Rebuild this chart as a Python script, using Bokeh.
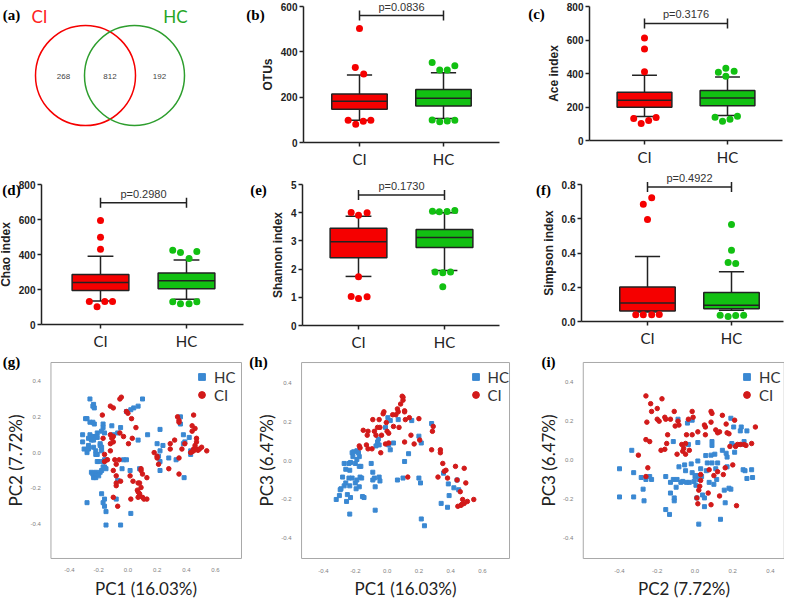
from bokeh.plotting import figure
from bokeh.layouts import column, row
from bokeh.models import Label, Legend, LegendItem, FixedTicker, PrintfTickFormatter, Range1d
from bokeh.embed import file_html
from bokeh.resources import INLINE
from bokeh.core.properties import value

# ---------------- data ----------------
venn_groups = ["CI", "HC"]
venn_counts = [268, 812, 192]          # CI only, shared, HC only

groups = ["CI", "HC"]
# box statistics per group: [low whisker, Q1, median, Q3, high whisker]
otus_stats = [[98, 147, 182, 214, 298], [106, 161, 195, 234, 308]]
ace_stats = [[143, 199, 240, 288, 389], [149, 207, 254, 298, 379]]
chao_stats = [[135, 194, 240, 286, 390], [145, 204, 250, 295, 368]]
shannon_stats = [[1.74, 2.40, 2.97, 3.45, 3.87], [1.95, 2.77, 3.12, 3.40, 4.00]]
simpson_stats = [[0.055, 0.062, 0.108, 0.201, 0.380], [0.065, 0.074, 0.095, 0.169, 0.291]]

# outlier values and their horizontal jitter (category units)
otus_out = [[503, 331, 302, 98, 81, 94, 98], [353, 320, 320, 339, 99, 91, 95, 98]]
otus_jit = [[0, -0.05, 0.05, -0.135, -0.045, 0.045, 0.135], [-0.135, -0.045, 0.045, 0.135, -0.135, -0.045, 0.045, 0.135]]
ace_out = [[612, 546, 411, 131, 101, 119, 137], [407, 431, 413, 383, 139, 115, 127, 145]]
ace_jit = [[0, 0, 0, -0.13, -0.04, 0.05, 0.14], [-0.11, -0.02, 0.08, -0.02, -0.15, -0.06, 0.03, 0.12]]
chao_out = [[594, 499, 430, 131, 101, 131, 131], [425, 411, 377, 417, 130, 118, 118, 130]]
chao_jit = [[0, 0, 0, -0.13, -0.04, 0.05, 0.14], [-0.16, -0.07, 0.03, 0.12, -0.16, -0.07, 0.03, 0.12]]
shannon_out = [[4.01, 3.91, 4.00, 1.73, 1.03, 0.96, 1.02], [4.05, 4.03, 4.04, 4.08, 1.90, 1.87, 1.90, 1.37]]
shannon_jit = [[-0.085, 0, 0.1, 0, -0.085, 0, 0.1], [-0.14, -0.06, 0.03, 0.12, -0.11, -0.02, 0.07, -0.02]]
simpson_out = [[0.722, 0.684, 0.595, 0.039, 0.039, 0.039, 0.041], [0.566, 0.416, 0.345, 0.339, 0.037, 0.029, 0.035, 0.037]]
simpson_jit = [[0.05, -0.05, 0, -0.14, -0.05, 0.05, 0.14], [0, 0, -0.04, 0.05, -0.135, -0.04, 0.05, 0.145]]

p_values = ["p=0.0836", "p=0.3176", "p=0.2980", "p=0.1730", "p=0.4922"]

# PCoA points (x, y)
g_hc = [(-0.26, 0.30), (-0.235, 0.27), (-0.24, 0.26), (-0.23, 0.25), (-0.29, 0.19), (-0.28, 0.19), (-0.26, 0.17),
        (-0.24, 0.17), (-0.23, 0.16), (-0.31, 0.10), (-0.26, 0.10), (-0.24, 0.09), (-0.22, 0.09), (-0.21, 0.11),
        (-0.17, 0.14), (-0.16, 0.11), (-0.18, 0.12), (-0.17, 0.16), (-0.31, 0.06), (-0.27, 0.08), (-0.25, 0.07),
        (-0.235, 0.07), (-0.21, 0.085), (-0.19, 0.05), (-0.30, 0.02), (-0.27, 0.02), (-0.27, 0.04), (-0.235, 0.03),
        (-0.22, 0.01), (-0.19, 0.04), (-0.18, 0.03), (-0.28, 0.00), (-0.22, -0.01), (-0.21, -0.01), (-0.18, 0.01),
        (-0.21, -0.05), (-0.20, -0.05), (-0.17, -0.05), (-0.16, -0.04), (-0.15, -0.04), (-0.25, -0.11), (-0.24, -0.12),
        (-0.22, -0.11), (-0.21, -0.12), (-0.19, -0.11), (-0.18, -0.10), (-0.17, -0.08), (-0.16, -0.08), (-0.15, -0.09),
        (-0.235, -0.14), (-0.22, -0.14), (-0.20, -0.13), (-0.18, -0.23), (-0.17, -0.28), (-0.16, -0.26), (-0.15, -0.33),
        (-0.16, -0.30), (-0.15, -0.405), (-0.05, -0.405), (-0.28, -0.28), (-0.11, 0.15), (-0.05, 0.14), (-0.01, 0.23),
        (0.02, 0.24), (0.04, 0.25), (0.07, 0.26), (0.10, 0.30), (-0.10, 0.10), (-0.07, 0.11), (0.07, 0.07),
        (0.135, 0.10), (-0.03, -0.04), (-0.01, -0.04), (-0.04, -0.09), (0.015, -0.10), (0.08, -0.09), (-0.08, -0.26),
        (-0.07, -0.155), (0.02, -0.34), (0.20, 0.05), (0.22, 0.13), (0.24, 0.04), (0.22, 0.01), (0.21, -0.02),
        (0.22, -0.05), (0.22, -0.10), (0.28, -0.03), (0.36, 0.20), (0.36, 0.16), (0.38, 0.10), (0.38, 0.05),
        (0.39, 0.06), (0.42, 0.085), (0.43, 0.01), (0.43, -0.01), (0.385, -0.14), (0.33, -0.04)]
g_ci = [(-0.175, 0.21), (-0.12, 0.26), (-0.10, 0.25), (-0.055, 0.30), (-0.045, 0.31), (-0.01, 0.23), (0.0, 0.22),
        (0.025, 0.19), (0.055, 0.14), (-0.17, 0.08), (-0.12, 0.10), (-0.11, 0.08), (-0.10, 0.09), (-0.055, 0.11),
        (-0.03, 0.09), (0.004, 0.05), (0.03, 0.08), (-0.12, 0.05), (-0.10, 0.06), (-0.12, 0.01), (-0.16, -0.01),
        (-0.16, -0.05), (-0.14, -0.04), (-0.09, -0.04), (-0.06, -0.04), (-0.08, -0.065), (-0.10, -0.10), (-0.08, -0.13),
        (-0.05, -0.16), (0.015, -0.13), (0.035, -0.16), (-0.08, -0.17), (-0.08, -0.185), (-0.10, -0.25), (-0.07, -0.30),
        (0.02, -0.26), (0.07, -0.22), (0.065, -0.21), (0.07, -0.25), (0.08, -0.24), (0.08, -0.23), (0.07, -0.17),
        (0.08, -0.17), (0.09, -0.195), (0.09, -0.10), (0.09, -0.09), (0.10, -0.12), (0.13, -0.14), (0.10, -0.25),
        (0.11, -0.26), (0.13, -0.26), (0.18, 0.0), (0.20, -0.02), (0.20, -0.03), (0.21, -0.065), (0.29, 0.05),
        (0.29, 0.02), (0.32, 0.07), (0.34, 0.20), (0.35, 0.18), (0.35, 0.17), (0.35, -0.03), (0.28, -0.09),
        (0.35, -0.12), (0.37, 0.02), (0.39, 0.05), (0.44, 0.12), (0.44, 0.15), (0.45, 0.21), (0.46, 0.135),
        (0.47, 0.08), (0.47, 0.06), (0.46, 0.04), (0.44, 0.006), (0.45, 0.02), (0.45, 0.01), (0.47, 0.02),
        (0.48, 0.013), (0.49, 0.02), (0.505, 0.03), (0.54, 0.01), (0.43, 0.0)]

h_hc = [(-0.32, -0.20), (-0.30, -0.18), (-0.295, -0.15), (-0.29, -0.145), (-0.27, -0.13), (-0.28, -0.085), (-0.27, -0.015),
        (-0.26, -0.045), (-0.24, -0.015), (-0.235, -0.05), (-0.23, -0.01), (-0.22, 0.04), (-0.215, 0.02), (-0.21, 0.045),
        (-0.19, 0.05), (-0.18, 0.04), (-0.175, 0.02), (-0.19, 0.005), (-0.20, -0.015), (-0.175, -0.03), (-0.165, -0.03),
        (-0.24, -0.09), (-0.22, -0.09), (-0.26, -0.115), (-0.235, -0.13), (-0.20, -0.115), (-0.195, -0.145), (-0.175, -0.135),
        (-0.17, -0.085), (-0.16, -0.09), (-0.19, -0.10), (-0.25, -0.175), (-0.23, -0.19), (-0.255, -0.21), (-0.235, -0.275),
        (-0.155, -0.185), (-0.145, -0.19), (-0.09, -0.10), (-0.08, -0.09), (-0.10, -0.015), (-0.09, -0.06), (-0.075, -0.135),
        (-0.075, -0.255), (-0.05, -0.085), (-0.045, -0.105), (-0.06, 0.095), (-0.05, 0.08), (-0.07, 0.075), (-0.055, 0.11),
        (-0.01, 0.17), (0.005, 0.22), (0.02, 0.205), (0.01, 0.08), (0.02, 0.055), (0.04, 0.09), (0.065, -0.10),
        (0.07, 0.21), (0.10, -0.09), (0.11, -0.005), (0.135, 0.035), (0.155, 0.205), (0.20, -0.09), (0.20, 0.125),
        (0.21, -0.115), (0.215, 0.09), (0.215, -0.30), (0.235, -0.335), (0.28, 0.19), (0.34, -0.22), (0.355, -0.065),
        (0.38, -0.24), (0.385, -0.12), (0.39, -0.18), (0.42, -0.14), (0.44, -0.10), (0.45, -0.15)]
h_ci = [(-0.175, 0.075), (-0.17, 0.065), (-0.15, 0.155), (-0.12, 0.15), (-0.125, 0.13), (-0.13, 0.08), (-0.12, 0.06),
        (-0.09, 0.21), (-0.095, 0.06), (-0.08, 0.15), (-0.07, 0.13), (-0.06, 0.17), (-0.05, 0.21), (-0.045, 0.17),
        (-0.04, 0.04), (-0.035, 0.13), (-0.025, 0.24), (-0.02, 0.25), (-0.01, 0.085), (-0.005, 0.195), (0.00, 0.15),
        (0.01, 0.14), (0.01, 0.09), (0.035, 0.235), (0.04, 0.175), (0.055, 0.235), (0.065, 0.265), (0.07, 0.25),
        (0.075, 0.17), (0.085, 0.29), (0.095, 0.33), (0.10, 0.325), (0.10, 0.31), (0.11, 0.255), (0.11, 0.25),
        (0.11, 0.095), (0.115, 0.21), (0.14, 0.22), (0.15, 0.13), (0.17, 0.085), (0.20, 0.215), (0.205, 0.105),
        (0.28, 0.055), (0.29, 0.175), (0.285, 0.15), (0.335, 0.055), (0.335, 0.04), (0.35, -0.015), (0.32, -0.085),
        (0.36, -0.055), (0.37, -0.05), (0.38, -0.09), (0.43, -0.03), (0.44, -0.10), (0.46, -0.16), (0.475, -0.20),
        (0.465, -0.23), (0.485, -0.04), (0.495, -0.115), (0.445, -0.235), (0.47, -0.225), (0.485, -0.22), (0.505, -0.21),
        (0.545, -0.20), (0.13, -0.085)]

i_hc = [(-0.40, -0.045), (-0.40, -0.19), (-0.335, 0.05), (-0.325, -0.065), (-0.325, -0.19), (-0.285, -0.09), (-0.275, -0.15),
        (-0.27, -0.21), (-0.26, -0.10), (-0.24, -0.085), (-0.23, -0.10), (-0.155, -0.085), (-0.155, -0.255), (-0.135, -0.28),
        (-0.13, -0.115), (-0.13, -0.17), (-0.115, -0.10), (-0.11, -0.195), (-0.11, -0.21), (-0.10, -0.14), (-0.095, -0.10),
        (-0.115, 0.095), (-0.09, 0.21), (-0.085, -0.035), (-0.075, -0.115), (-0.065, -0.11), (-0.055, -0.025), (-0.05, -0.055),
        (-0.045, -0.115), (-0.04, 0.19), (-0.035, 0.08), (-0.03, -0.115), (-0.02, -0.02), (-0.015, -0.065), (-0.015, 0.205),
        (-0.005, -0.11), (0.00, -0.085), (0.005, -0.08), (0.005, -0.13), (0.01, -0.195), (0.015, -0.005), (0.015, 0.09),
        (0.02, -0.10), (0.02, -0.08), (0.02, -0.33), (0.03, -0.045), (0.035, -0.085), (0.04, -0.18), (0.05, -0.195),
        (0.05, -0.24), (0.057, 0.023), (0.06, -0.055), (0.065, -0.015), (0.075, -0.115), (0.085, 0.025), (0.09, 0.095),
        (0.09, 0.075), (0.09, -0.015), (0.10, -0.125), (0.105, 0.03), (0.11, -0.045), (0.115, -0.10), (0.12, -0.015),
        (0.135, -0.305), (0.145, 0.05), (0.155, -0.155), (0.16, -0.22), (0.165, 0.035), (0.17, 0.015), (0.17, -0.035),
        (0.18, -0.145), (0.19, 0.215), (0.19, -0.15), (0.195, 0.085), (0.205, 0.17), (0.21, 0.04), (0.215, 0.075),
        (0.24, 0.15), (0.245, 0.17), (0.255, -0.05), (0.26, 0.095), (0.265, -0.055), (0.275, -0.095), (0.275, 0.15),
        (0.30, -0.05), (0.305, -0.09), (0.24, 0.08)]
i_ci = [(-0.26, 0.105), (-0.255, 0.195), (-0.25, -0.04), (-0.30, 0.025), (-0.26, -0.085), (-0.26, 0.33), (-0.235, 0.29),
        (-0.23, 0.25), (-0.24, 0.095), (-0.20, 0.265), (-0.20, 0.21), (-0.19, 0.20), (-0.18, 0.05), (-0.175, 0.315),
        (-0.16, 0.22), (-0.155, 0.21), (-0.15, 0.085), (-0.145, 0.13), (-0.16, 0.055), (-0.13, 0.21), (-0.11, 0.25),
        (-0.105, 0.175), (-0.095, 0.03), (-0.09, 0.20), (-0.085, 0.18), (-0.07, 0.08), (-0.065, 0.045), (-0.06, 0.06),
        (-0.05, 0.085), (-0.05, 0.03), (-0.045, 0.13), (-0.035, 0.21), (-0.03, 0.05), (-0.015, 0.13), (-0.015, 0.25),
        (-0.01, 0.22), (0.01, -0.195), (0.015, -0.225), (0.015, 0.145), (0.02, -0.155), (0.025, -0.135), (0.03, -0.105),
        (0.05, 0.18), (0.055, 0.17), (0.055, 0.13), (0.07, -0.17), (0.075, -0.05), (0.085, 0.195), (0.085, 0.25),
        (0.09, 0.24), (0.085, -0.23), (0.10, -0.08), (0.11, 0.155), (0.12, 0.14), (0.13, -0.185), (0.13, 0.145),
        (0.145, 0.23), (0.15, -0.075), (0.165, 0.185), (0.17, 0.14), (0.18, 0.135), (0.185, 0.07), (0.20, -0.025),
        (0.21, 0.205), (0.215, 0.07), (0.22, -0.235), (0.225, 0.08), (0.24, 0.08), (0.26, 0.08), (0.27, 0.075),
        (0.30, 0.085), (0.32, 0.17), (0.12, -0.06), (0.16, -0.04), (0.03, -0.075)]

pc_ticks_a = [-0.4, -0.2, 0.0, 0.2, 0.4, 0.6]
pc_ticks_b = [-0.4, -0.2, 0.0, 0.2, 0.4]

# ---------------- styles ----------------
RED = "#F50000"
GREEN = "#12C012"
BLUE_S = "#3A88D2"
RED_S = "#D21A1A"
INK = "#222222"
LETTER_FONT = "Liberation Serif"


# ------------- geometry helpers (page pixels -> data ranges) -------------
class Geo:
    def __init__(self, left, top, width, height, xpx, xval, xppu, ypx, yval, yppu):
        self.left, self.top, self.w, self.h = left, top, width, height
        self.xppu, self.yppu = xppu, yppu
        self.x0 = xval - (xpx - left) / xppu
        self.x1 = self.x0 + width / xppu
        self.y0 = yval - (top + height - ypx) / yppu
        self.y1 = self.y0 + height / yppu

    def X(self, px):
        return self.x0 + (px - self.left) / self.xppu

    def Y(self, py):
        return self.y0 + (self.top + self.h - py) / self.yppu


def make_fig(g, **kw):
    p = figure(width=g.w, height=g.h, x_range=Range1d(g.x0, g.x1), y_range=Range1d(g.y0, g.y1),
               min_border=0, min_border_left=0, min_border_right=0, min_border_top=0, min_border_bottom=0,
               output_backend="svg", toolbar_location=None, **kw)
    p.grid.visible = False
    p.outline_line_color = None
    return p


def letter(p, g, txt, px, py):
    p.add_layout(Label(x=g.X(px), y=g.Y(py), text=txt, text_font=LETTER_FONT, text_font_style="bold",
                       text_font_size="15px", text_align="center", text_baseline="middle", text_color="black"))


# ---------------- (a) Venn ----------------
ga = Geo(8, 8, 242, 172, 8, 0, 1.0, 180, 0, 1.0)
pa = make_fig(ga, x_axis_type=None, y_axis_type=None)
cx = [85, 134]
cy = 97
rad = 50
pa.circle(x=cx, y=[cy, cy], radius=rad, fill_color=None, line_color=[RED, "#2E9E2E"], line_width=1.5)
pa.text(x=[cx[0] - 46, cx[1] + 41], y=[cy + 59, cy + 59], text=venn_groups, text_color=["#FF2020", "#25A525"],
        text_font=value("Lato"), text_font_size="17px", text_align="center", text_baseline="middle")
pa.text(x=[cx[0] - 22, (cx[0] + cx[1]) / 2, cx[1] + 25], y=[cy - 1] * 3, text=[str(c) for c in venn_counts],
        text_color="#444444", text_font=value("Liberation Sans"), text_font_size="8px",
        text_align="center", text_baseline="middle")
letter(pa, ga, "(a)", 19, 22)


# ---------------- box plots ----------------
def box_panel(stats, outs, jits, ptxt, ymax, ticks, ylabel, let, let_px, box, bracket_frac, fmt=None):
    left, top, width, height, ci_px, ppu, y0px, ytoppx, axl, axr = box
    g = Geo(left, top, width, height, ci_px, 1, ppu, y0px, 0, (y0px - ytoppx) / ymax)
    p = make_fig(g)
    xl, xr = g.X(axl), g.X(axr)
    xs = [1, 2]
    cols = [RED, GREEN]
    lo = [s[0] for s in stats]
    q1 = [s[1] for s in stats]
    med = [s[2] for s in stats]
    q3 = [s[3] for s in stats]
    hi = [s[4] for s in stats]
    cap = 0.15
    half = 0.33
    p.segment(x0=xs + xs, y0=q3 + q1, x1=xs + xs, y1=hi + lo, line_color=INK, line_width=1.5)
    p.segment(x0=[x - cap for x in xs] * 2, y0=hi + lo, x1=[x + cap for x in xs] * 2, y1=hi + lo,
              line_color=INK, line_width=1.5)
    p.vbar(x=xs, width=2 * half, bottom=q1, top=q3, fill_color=cols, line_color=INK, line_width=1.5)
    p.segment(x0=[x - half for x in xs], y0=med, x1=[x + half for x in xs], y1=med, line_color=INK, line_width=1.5)
    for i in range(2):
        p.scatter(x=[xs[i] + j for j in jits[i]], y=outs[i], size=7, color=cols[i], line_color=None)
    by = bracket_frac * ymax
    ch = 5 / g.yppu
    p.segment(x0=[1], y0=[by], x1=[2], y1=[by], line_color=INK, line_width=1.5)
    p.segment(x0=xs, y0=[by - ch] * 2, x1=xs, y1=[by + ch] * 2, line_color=INK, line_width=1.5)
    p.add_layout(Label(x=1.5, y=by + 3 / g.yppu, text=ptxt, text_align="center", text_baseline="bottom",
                       text_font="Liberation Sans", text_font_size="11px", text_color="#333333"))
    # axes
    p.yaxis.fixed_location = xl
    p.yaxis.bounds = (0, ymax)
    p.xaxis.fixed_location = 0
    p.xaxis.bounds = (xl, xr)
    p.yaxis.ticker = FixedTicker(ticks=ticks)
    if fmt:
        p.yaxis.formatter = PrintfTickFormatter(format=fmt)
    p.yaxis.axis_label = ylabel
    p.yaxis.axis_label_text_font = "Liberation Sans"
    p.yaxis.axis_label_text_font_style = "bold"
    p.yaxis.axis_label_text_font_size = "12px"
    p.yaxis.axis_label_text_color = INK
    p.yaxis.axis_label_standoff = 3
    p.yaxis.major_label_text_font = "Liberation Sans"
    p.yaxis.major_label_text_font_style = "bold"
    p.yaxis.major_label_text_font_size = "10px"
    p.yaxis.major_label_text_color = INK
    p.yaxis.major_label_standoff = 2
    p.xaxis.ticker = FixedTicker(ticks=xs)
    p.xaxis.major_label_overrides = {1: groups[0], 2: groups[1]}
    p.xaxis.major_label_text_font = "Lato"
    p.xaxis.major_label_text_font_size = "15px"
    p.xaxis.major_label_text_color = INK
    p.xaxis.major_label_standoff = 3
    for ax in (p.xaxis, p.yaxis):
        ax.axis_line_width = 1.5
        ax.axis_line_color = INK
        ax.major_tick_line_width = 1.5
        ax.major_tick_line_color = INK
        ax.major_tick_out = 4
        ax.major_tick_in = 0
        ax.minor_tick_line_color = None
    letter(p, g, let, *let_px)
    return p


# panel geometry: fig left, fig top, width, height, CI x px, px per category, y=0 px, y=max px, axis left px, axis right px
pb = box_panel(otus_stats, otus_out, otus_jit, p_values[0], 600, [0, 200, 400, 600], "OTUs", "(b)", (263, 22),
               (250, 8, 280, 172, 367, 84, 150, 14, 311, 507), 0.933)
pc = box_panel(ace_stats, ace_out, ace_jit, p_values[1], 800, [0, 200, 400, 600, 800], "Ace index", "(c)", (544, 21),
               (530, 8, 262, 172, 652, 83, 148, 14, 597, 790), 0.874)
pd_ = box_panel(chao_stats, chao_out, chao_jit, p_values[2], 800, [0, 200, 400, 600, 800], "Chao index", "(d)",
                (19, 197), (8, 180, 247, 178, 108, 86, 332, 192, 49, 251), 0.869)
pe = box_panel(shannon_stats, shannon_out, shannon_jit, p_values[3], 5, [0, 1, 2, 3, 4, 5], "Shannon index", "(e)",
               (266, 197), (255, 180, 285, 178, 366, 86, 333, 192, 310, 507), 0.926)
pf = box_panel(simpson_stats, simpson_out, simpson_jit, p_values[4], 0.8, [0, 0.2, 0.4, 0.6, 0.8], "Simpson index",
               "(f)", (551, 197), (540, 180, 252, 178, 655, 84, 329, 192, 589, 791), 0.982, fmt="%.1f")


# ---------------- PCoA scatter ----------------
def pc_panel(hc, ci, box, xt, yt, xlabel, ylabel, let, let_px, geo, leg_xy):
    left, top, width, height, xpx, xppu, ypx, yppu = geo
    g = Geo(left, top, width, height, xpx, -0.4, xppu, ypx, 0.4, yppu)
    p = make_fig(g)
    bx0, bx1, by0, by1 = box
    p.quad(left=[bx0], right=[bx1], bottom=[by0], top=[by1], fill_color=None, line_color="#A8A8A8", line_width=1)
    r_hc = p.scatter(x=[a for a, b in hc], y=[b for a, b in hc], marker="square", size=4, color=BLUE_S)
    r_ci = p.scatter(x=[a for a, b in ci], y=[b for a, b in ci], marker="circle", size=4.5, color=RED_S)
    p.xaxis.fixed_location = by0
    p.xaxis.bounds = (bx0, bx1)
    p.yaxis.fixed_location = bx0
    p.yaxis.bounds = (by0, by1)
    p.xaxis.ticker = FixedTicker(ticks=xt)
    p.yaxis.ticker = FixedTicker(ticks=yt)
    for ax in (p.xaxis, p.yaxis):
        ax.formatter = PrintfTickFormatter(format="%.1f")
        ax.axis_line_color = None
        ax.major_tick_line_color = None
        ax.minor_tick_line_color = None
        ax.major_label_text_font_size = "6px"
        ax.major_label_text_color = "#808080"
        ax.axis_label_text_font = "Lato"
        ax.axis_label_text_font_size = "17px"
        ax.axis_label_text_font_style = "normal"
        ax.axis_label_text_color = INK
    p.xaxis.major_label_standoff = 4
    p.yaxis.major_label_standoff = 4
    p.xaxis.axis_label_standoff = 2
    p.yaxis.axis_label_standoff = 1
    p.xaxis.axis_label = xlabel
    p.yaxis.axis_label = ylabel
    leg = Legend(items=[LegendItem(label="HC", renderers=[r_hc]), LegendItem(label="CI", renderers=[r_ci])],
                 location=leg_xy, orientation="vertical", background_fill_alpha=0,
                 border_line_color=None, label_text_font="Lato", label_text_font_size="15px",
                 label_text_color="#333333", glyph_width=17, glyph_height=17, label_height=17,
                 spacing=0, padding=0, margin=0, label_standoff=4)
    p.add_layout(leg)
    letter(p, g, let, *let_px)
    return p


# geo: fig left, fig top, width, height, px of x=-0.4, px per unit x, px of y=0.4, px per unit y
pg = pc_panel(g_hc, g_ci, (-0.527, 0.778, -0.592, 0.504), pc_ticks_a, pc_ticks_b, "PC1 (16.03%)", "PC2 (7.72%)",
              "(g)", (19, 369), (8, 358, 247, 250, 77, 146, 388.6, 178.8), (193, 196.5))
ph = pc_panel(h_hc, h_ci, (-0.538, 0.77, -0.503, 0.503), pc_ticks_a, pc_ticks_b, "PC1 (16.03%)", "PC3 (6.47%)",
              "(h)", (266, 369), (255, 358, 275, 250, 331, 159, 390.1, 194.8), (219.5, 196.5))
pi = pc_panel(i_hc, i_ci, (-0.592, 0.473, -0.507, 0.502), pc_ticks_b, pc_ticks_b, "PC2 (7.72%)", "PC3 (6.47%)",
              "(i)", (556, 369), (530, 358, 262, 250, 627, 188.75, 389.8, 194.3), (216, 196.5))

layout = column(row(pa, pb, pc), row(pd_, pe, pf), row(pg, ph, pi))

open("out.html", "w").write(file_html(layout, INLINE))
